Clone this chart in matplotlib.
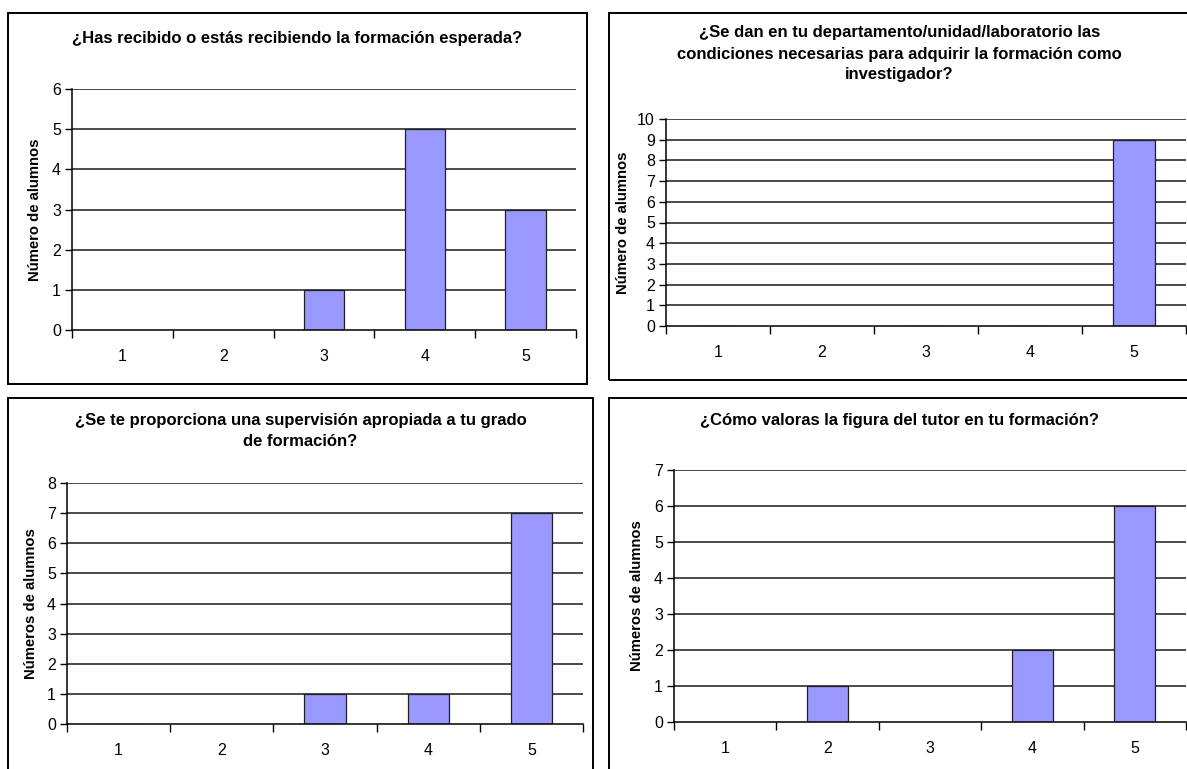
import matplotlib
matplotlib.use("Agg")
import matplotlib.pyplot as plt
from matplotlib.patches import Rectangle
from matplotlib.ticker import FixedLocator

plt.rcParams['font.family'] = ['Liberation Sans', 'DejaVu Sans']

W, H = 1187, 769

categories = [1, 2, 3, 4, 5]
q1_values = [0, 0, 1, 5, 3]
q2_values = [0, 0, 0, 0, 9]
q3_values = [0, 0, 1, 1, 7]
q4_values = [0, 1, 0, 2, 6]

titles = [
    "¿Has recibido o estás recibiendo la formación esperada?",
    "¿Se dan en tu departamento/unidad/laboratorio las\ncondiciones necesarias para adquirir la formación como\ninvestigador?",
    "¿Se te proporciona una supervisión apropiada a tu grado\nde formación?",
    "¿Cómo valoras la figura del tutor en tu formación?",
]
ylabels = ["Número de alumnos", "Número de alumnos",
           "Números de alumnos", "Números de alumnos"]
ymaxes = [6, 10, 8, 7]
series = [q1_values, q2_values, q3_values, q4_values]

# layout in pixels: box (x0, y0, x1, y1), axes (x0, y0, x1, y1), title center y, ylabel x
boxes = [(8, 13, 587, 384), (609, 13, 1195, 380), (8, 398, 593, 780), (609, 398, 1195, 780)]
axes_px = [(72, 89, 576, 330), (666, 119, 1186, 326), (67, 483, 583, 724), (674, 470, 1186, 722)]
title_y = [38, 54, 431, 420]
ylabel_x = [35, 623, 31, 637]

fig = plt.figure(figsize=(W / 100, H / 100), dpi=100)
fig.patch.set_facecolor("white")

for i in range(4):
    bx0, by0, bx1, by1 = boxes[i]
    fig.add_artist(Rectangle((bx0 / W, 1 - by1 / H), (bx1 - bx0) / W, (by1 - by0) / H,
                             transform=fig.transFigure, fill=False, edgecolor="black",
                             linewidth=1.4))
    ax0, ay0, ax1, ay1 = axes_px[i]
    ax = fig.add_axes([ax0 / W, 1 - ay1 / H, (ax1 - ax0) / W, (ay1 - ay0) / H])
    ax.set_facecolor("none")
    ax.bar(categories, series[i], width=0.4, color="#9999FF", edgecolor="#202020",
           linewidth=0.9, zorder=3)
    ax.set_xlim(0.5, 5.5)
    ax.set_ylim(0, ymaxes[i])
    ax.set_yticks(range(0, ymaxes[i] + 1))
    ax.set_xticks(categories)
    ax.xaxis.set_minor_locator(FixedLocator([0.5, 1.5, 2.5, 3.5, 4.5, 5.5]))
    ax.tick_params(axis="x", which="major", length=0, pad=14, labelsize=11.5)
    ax.tick_params(axis="x", which="minor", length=6, width=1, direction="out", color="black")
    ax.tick_params(axis="y", length=5, width=1, direction="out", labelsize=11.5, pad=3)
    for y in range(1, ymaxes[i] + 1):
        ax.axhline(y, color="#1a1a1a", linewidth=1.1, zorder=1)
    for s in ["top", "right"]:
        ax.spines[s].set_visible(False)
    for s in ["left", "bottom"]:
        ax.spines[s].set_linewidth(1.1)
        ax.spines[s].set_color("black")
    ax.spines["bottom"].set_zorder(4)
    cx = (bx0 + min(bx1, 1190)) / 2
    fig.text(cx / W, 1 - title_y[i] / H, titles[i], ha="center", va="center",
             fontsize=12, fontweight="bold", linespacing=1.5)
    fig.text(ylabel_x[i] / W, 1 - ((ay0 + ay1) / 2) / H, ylabels[i], rotation=90,
             ha="center", va="center", fontsize=10.7, fontweight="bold")

fig.savefig("out.png", dpi=100)
